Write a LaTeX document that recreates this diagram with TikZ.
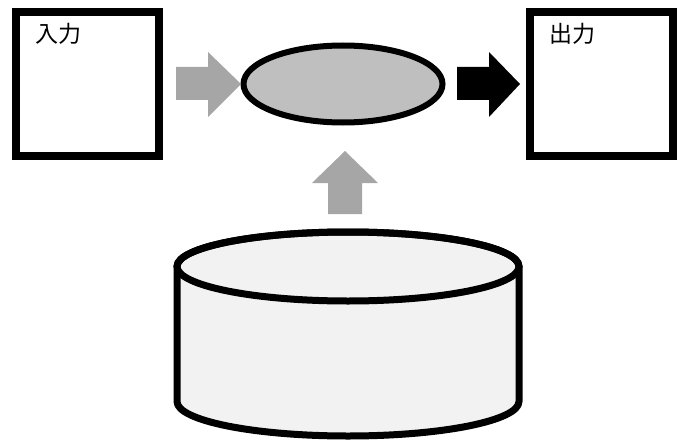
\documentclass[tikz,border=0pt]{standalone}
\usepackage{fontspec}
\newfontfamily\jpfont{Noto Sans CJK JP}
\usetikzlibrary{shapes.geometric}
\definecolor{arrowgray}{HTML}{A6A6A6}
\definecolor{ellgray}{HTML}{BFBFBF}
\definecolor{cylgray}{HTML}{F2F2F2}
\begin{document}
\begin{tikzpicture}[x=1pt,y=-1pt,
  iobox/.style={draw=black,line width=8pt,fill=white,minimum width=143pt,minimum height=144pt,inner sep=0pt},
  lbl/.style={font=\jpfont\fontsize{23}{23}\selectfont,anchor=north west,inner sep=0pt},
  blockarrow/.style={draw=none}]
\useasboundingbox (0,0) rectangle (687,441);
% boxes
\node[iobox] (in) at (87.5,84) {};
\node[iobox] (out) at (601.5,84) {};
\node[lbl] (inl) at (35,23) {入力};
\node[lbl] (outl) at (549,23) {出力};
% process ellipse
\node[ellipse,draw=black,line width=6pt,fill=ellgray,minimum width=199pt,minimum height=77pt,inner sep=0pt] (proc) at (343,84) {};
% block arrows
\fill[arrowgray] (176,67) -- (208,67) -- (208,52) -- (241,84) -- (208,117) -- (208,100) -- (176,100) -- cycle;
\fill[black] (457,67) -- (489,67) -- (489,52) -- (520,84) -- (489,117) -- (489,100) -- (457,100) -- cycle;
\fill[arrowgray] (328,214) -- (328,183) -- (312,183) -- (345,151) -- (378,183) -- (362,183) -- (362,214) -- cycle;
% cylinder
\coordinate (cyl) at (348,266.5);
\filldraw[fill=cylgray,draw=black,line width=7pt,line join=round] (177,266.5) -- (177,401.5) arc[start angle=180,end angle=0,x radius=171,y radius=34.5] -- (519,266.5) arc[start angle=0,end angle=-180,x radius=171,y radius=34.5] -- cycle;
\draw[line width=7pt] (cyl) ellipse[x radius=171,y radius=34.5];
\end{tikzpicture}
\end{document}
